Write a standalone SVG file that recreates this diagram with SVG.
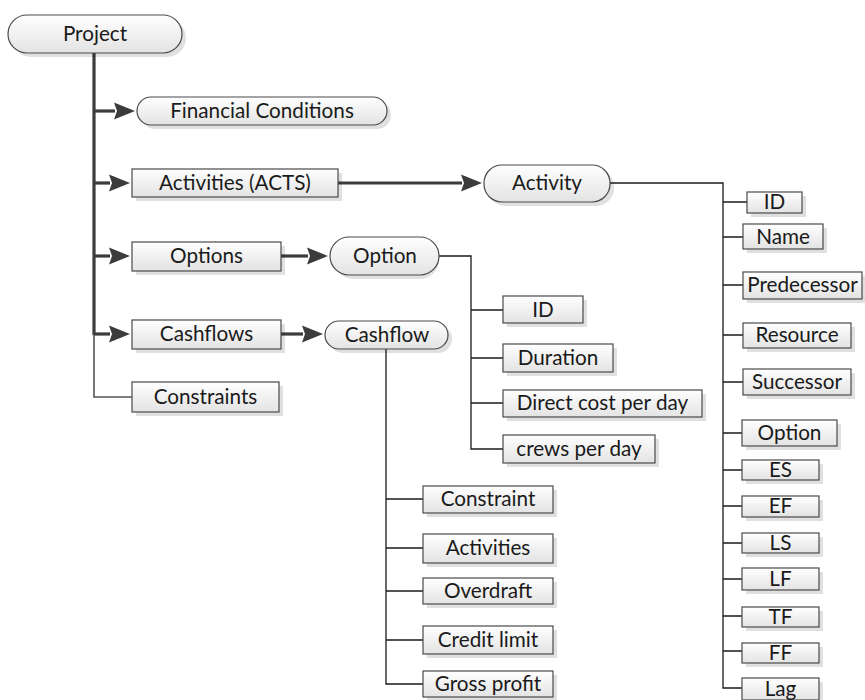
<svg xmlns="http://www.w3.org/2000/svg" width="865" height="700" viewBox="0 0 865 700">
<style>
text{font-family:"Lato","Liberation Sans",sans-serif;font-size:20.7px;fill:#1a1a1a;text-anchor:middle}
.box{fill:url(#g);stroke:#4a4a4a;stroke-width:1.2}
.sh{fill:#000;fill-opacity:0.12}
.thick{stroke:#3c3c3c;stroke-width:3.2;fill:none}
.thin{stroke:#1a1a1a;stroke-width:1.3;fill:none}
.gray{stroke:#555;stroke-width:1.6;fill:none}
</style>
<defs>
<linearGradient id="g" x1="0" y1="0" x2="0" y2="1">
<stop offset="0" stop-color="#ffffff"/>
<stop offset="1" stop-color="#e3e3e3"/>
</linearGradient>
<marker id="ah" markerUnits="userSpaceOnUse" markerWidth="22" markerHeight="18" refX="1" refY="8.5" orient="auto" overflow="visible">
<path d="M0,0 L21,8.5 L0,17 L3,8.5 z" fill="#3c3c3c"/>
</marker>
</defs>
<rect width="865" height="700" fill="#fff"/>
<g id="connectors">
<path class="thick" d="M94,53 V335"/>
<path class="gray" d="M94,334 V397 H132"/>
<path class="thick" d="M94,111 H115" marker-end="url(#ah)"/>
<path class="thick" d="M94,183 H110" marker-end="url(#ah)"/>
<path class="thick" d="M94,256 H110" marker-end="url(#ah)"/>
<path class="thick" d="M94,334 H110" marker-end="url(#ah)"/>
<path class="thick" d="M338,183 H462" marker-end="url(#ah)"/>
<path class="thick" d="M281,256 H308" marker-end="url(#ah)"/>
<path class="thick" d="M281,334 H303" marker-end="url(#ah)"/>
<path class="thin" d="M610,183 H723 V688 H742"/>
<path class="thin" d="M723,202 H747 M723,237 H743 M723,285 H743 M723,335 H743 M723,382 H743 M723,433 H742 M723,470 H742 M723,506 H742 M723,543 H742 M723,579 H742 M723,616 H742 M723,651 H742"/>
<path class="thin" d="M439,256 H471 V449 H503"/>
<path class="thin" d="M471,310 H503 M471,358 H503 M471,403 H503"/>
<path class="thin" d="M386,349 V684 H423"/>
<path class="thin" d="M386,499 H423 M386,548 H423 M386,591 H423 M386,640 H423"/>
</g>
<g id="project"><rect class="sh" x="12" y="19" width="174" height="38" rx="19"/><rect class="box" x="8" y="15" width="174" height="38" rx="19"/><text x="95" y="41">Project</text></g>
<g id="financial-conditions"><rect class="sh" x="141" y="101" width="250" height="28" rx="14"/><rect class="box" x="137" y="97" width="250" height="28" rx="14"/><text x="262" y="118">Financial Conditions</text></g>
<g id="activities-acts"><rect class="sh" x="136" y="173" width="206" height="28"/><rect class="box" x="132" y="169" width="206" height="28"/><text x="235" y="190">Activities (ACTS)</text></g>
<g id="activity"><rect class="sh" x="488" y="169" width="126" height="37" rx="18"/><rect class="box" x="484" y="165" width="126" height="37" rx="18"/><text x="547" y="190">Activity</text></g>
<g id="options"><rect class="sh" x="136" y="246" width="149" height="29"/><rect class="box" x="132" y="242" width="149" height="29"/><text x="206.5" y="263">Options</text></g>
<g id="option"><rect class="sh" x="334" y="241" width="105" height="38" rx="19"/><rect class="box" x="330" y="237" width="109" height="38" rx="19"/><text x="385" y="263">Option</text></g>
<g id="cashflows"><rect class="sh" x="136" y="324" width="149" height="29"/><rect class="box" x="132" y="320" width="149" height="29"/><text x="206.5" y="341">Cashflows</text></g>
<g id="cashflow"><rect class="sh" x="329" y="325" width="123" height="28" rx="14"/><rect class="box" x="325" y="321" width="123" height="28" rx="14"/><text x="387" y="342">Cashflow</text></g>
<g id="constraints"><rect class="sh" x="136" y="386" width="147" height="30"/><rect class="box" x="132" y="382" width="147" height="30"/><text x="205.5" y="404">Constraints</text></g>
<g id="act-id"><rect class="sh" x="751" y="196" width="55" height="21"/><rect class="box" x="747" y="192" width="55" height="21"/><text x="774.5" y="209">ID</text></g>
<g id="act-name"><rect class="sh" x="747" y="228" width="80" height="25"/><rect class="box" x="743" y="224" width="80" height="25"/><text x="783" y="244">Name</text></g>
<g id="act-predecessor"><rect class="sh" x="747" y="276" width="119" height="27"/><rect class="box" x="743" y="272" width="119" height="27"/><text x="802.5" y="292">Predecessor</text></g>
<g id="act-resource"><rect class="sh" x="747" y="327" width="108" height="25"/><rect class="box" x="743" y="323" width="108" height="25"/><text x="797" y="342">Resource</text></g>
<g id="act-successor"><rect class="sh" x="747" y="373" width="108" height="26"/><rect class="box" x="743" y="369" width="108" height="26"/><text x="797" y="389">Successor</text></g>
<g id="act-option"><rect class="sh" x="746" y="424" width="95" height="26"/><rect class="box" x="742" y="420" width="95" height="26"/><text x="789.5" y="440">Option</text></g>
<g id="act-es"><rect class="sh" x="746" y="464" width="77" height="20"/><rect class="box" x="742" y="460" width="77" height="20"/><text x="780.5" y="477">ES</text></g>
<g id="act-ef"><rect class="sh" x="746" y="500" width="77" height="21"/><rect class="box" x="742" y="496" width="77" height="21"/><text x="780.5" y="513">EF</text></g>
<g id="act-ls"><rect class="sh" x="746" y="537" width="77" height="20"/><rect class="box" x="742" y="533" width="77" height="20"/><text x="780.5" y="550">LS</text></g>
<g id="act-lf"><rect class="sh" x="746" y="572" width="77" height="22"/><rect class="box" x="742" y="568" width="77" height="22"/><text x="780.5" y="586">LF</text></g>
<g id="act-tf"><rect class="sh" x="746" y="611" width="77" height="20"/><rect class="box" x="742" y="607" width="77" height="20"/><text x="780.5" y="624">TF</text></g>
<g id="act-ff"><rect class="sh" x="746" y="647" width="77" height="20"/><rect class="box" x="742" y="643" width="77" height="20"/><text x="780.5" y="660">FF</text></g>
<g id="act-lag"><rect class="sh" x="746" y="682" width="77" height="22"/><rect class="box" x="742" y="678" width="77" height="22"/><text x="780.5" y="696">Lag</text></g>
<g id="opt-id"><rect class="sh" x="507" y="300" width="80" height="27"/><rect class="box" x="503" y="296" width="80" height="27"/><text x="543" y="317">ID</text></g>
<g id="opt-duration"><rect class="sh" x="507" y="348" width="110" height="28"/><rect class="box" x="503" y="344" width="110" height="28"/><text x="558" y="365">Duration</text></g>
<g id="opt-direct-cost"><rect class="sh" x="507" y="394" width="199" height="27"/><rect class="box" x="503" y="390" width="199" height="27"/><text x="602.5" y="410">Direct cost per day</text></g>
<g id="opt-crews"><rect class="sh" x="507" y="439" width="152" height="28"/><rect class="box" x="503" y="435" width="152" height="28"/><text x="579" y="456">crews per day</text></g>
<g id="cf-constraint"><rect class="sh" x="427" y="490" width="130" height="27"/><rect class="box" x="423" y="486" width="130" height="27"/><text x="488" y="506">Constraint</text></g>
<g id="cf-activities"><rect class="sh" x="427" y="538" width="130" height="29"/><rect class="box" x="423" y="534" width="130" height="29"/><text x="488" y="555">Activities</text></g>
<g id="cf-overdraft"><rect class="sh" x="427" y="582" width="130" height="26"/><rect class="box" x="423" y="578" width="130" height="26"/><text x="488" y="598">Overdraft</text></g>
<g id="cf-credit-limit"><rect class="sh" x="427" y="630" width="130" height="28"/><rect class="box" x="423" y="626" width="130" height="28"/><text x="488" y="647">Credit limit</text></g>
<g id="cf-gross-profit"><rect class="sh" x="427" y="675" width="130" height="26"/><rect class="box" x="423" y="671" width="130" height="26"/><text x="488" y="691">Gross profit</text></g>
</svg>
